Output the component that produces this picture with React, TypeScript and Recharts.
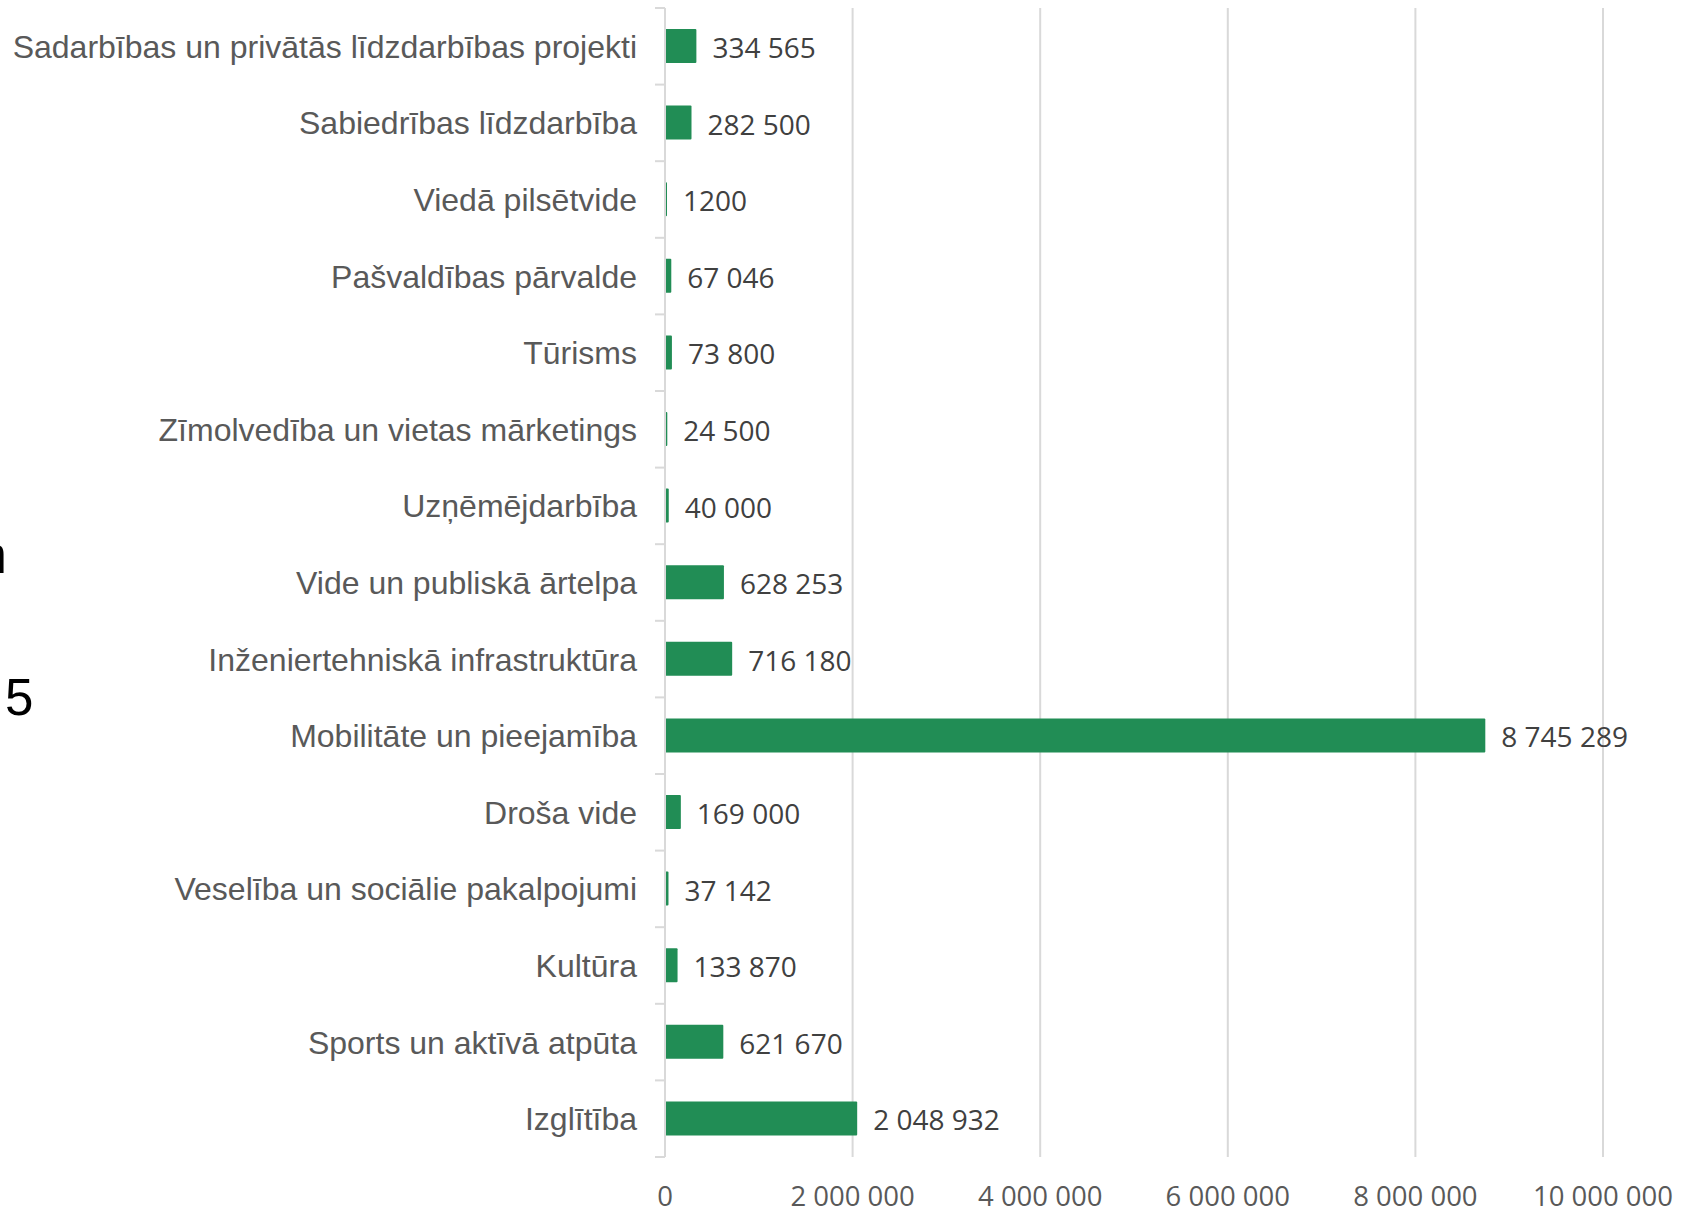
import { BarChart, Bar, XAxis, YAxis, CartesianGrid, LabelList } from 'recharts';

const categories = [
    'Sadarbības un privātās līdzdarbības projekti',
    'Sabiedrības līdzdarbība',
    'Viedā pilsētvide',
    'Pašvaldības pārvalde',
    'Tūrisms',
    'Zīmolvedība un vietas mārketings',
    'Uzņēmējdarbība',
    'Vide un publiskā ārtelpa',
    'Inženiertehniskā infrastruktūra',
    'Mobilitāte un pieejamība',
    'Droša vide',
    'Veselība un sociālie pakalpojumi',
    'Kultūra',
    'Sports un aktīvā atpūta',
    'Izglītība',
];

const amounts = [334565, 282500, 1200, 67046, 73800, 24500, 40000, 628253, 716180, 8745289, 169000, 37142, 133870, 621670, 2048932];

const xTicks = [0, 2000000, 4000000, 6000000, 8000000, 10000000];

const data = categories.map((name, i) => ({ name, amount: amounts[i] }));

const W = 1701;
const H = 1213;
const TOP = 8;
const X_AXIS_H = 56;
const Y_AXIS_W = 665;
const BAND = (H - TOP - X_AXIS_H) / categories.length;

const GREEN = '#218d55';
const GRID = '#d9d9d9';
const LABEL_FONT = "'Liberation Sans', Arial, sans-serif";
const NUM_FONT = "'Open Sans', sans-serif";

// spaces as thousand separators, 4-digit numbers stay ungrouped
const fmt = (v: number) => (v < 10000 ? String(v) : String(v).replace(/\B(?=(\d{3})+(?!\d))/g, ' '));

const CategoryTick = ({ x, y, payload, index }: any) => (
    <g>
        <text x={x} y={y} dy="0.36em" textAnchor="end" fill="#595959" fontSize={32} fontFamily={LABEL_FONT}>
            {payload.value}
        </text>
        <line x1={Y_AXIS_W - 10} x2={Y_AXIS_W} y1={y - BAND / 2} y2={y - BAND / 2} stroke={GRID} strokeWidth={2} />
        {index === categories.length - 1 && (
            <line x1={Y_AXIS_W - 10} x2={Y_AXIS_W} y1={y + BAND / 2} y2={y + BAND / 2} stroke={GRID} strokeWidth={2} />
        )}
    </g>
);

export default function App() {
    return (
        <div style={{ position: 'absolute', left: 0, top: 0, width: W, height: H, background: '#fff', overflow: 'hidden' }}>
            <BarChart
                width={W}
                height={H}
                data={data}
                layout="vertical"
                margin={{ top: TOP, right: 98, bottom: 0, left: 0 }}
            >
                <CartesianGrid horizontal={false} stroke={GRID} strokeWidth={2} />
                <XAxis
                    type="number"
                    domain={[0, 10000000]}
                    ticks={xTicks}
                    tickFormatter={fmt}
                    axisLine={false}
                    tickLine={false}
                    tickSize={0}
                    tickMargin={29}
                    height={X_AXIS_H}
                    interval={0}
                    tick={{ fontSize: 27.5, fill: '#595959', fontFamily: NUM_FONT }}
                />
                <YAxis
                    type="category"
                    dataKey="name"
                    width={Y_AXIS_W}
                    axisLine={{ stroke: GRID, strokeWidth: 2 }}
                    tickLine={false}
                    tickSize={10}
                    tickMargin={18}
                    interval={0}
                    tick={<CategoryTick />}
                />
                <Bar dataKey="amount" fill={GREEN} barSize={34} minPointSize={2} radius={1} isAnimationActive={false}>
                    <LabelList
                        dataKey="amount"
                        position="right"
                        offset={16}
                        dy={2}
                        formatter={(v: any) => fmt(Number(v))}
                        fill="#404040"
                        fontSize={28}
                        fontFamily={NUM_FONT}
                    />
                </Bar>
            </BarChart>
            <svg width={60} height={H} style={{ position: 'absolute', left: 0, top: 0 }}>
                <text x={-21.5} y={573} fontSize={51} fontFamily={LABEL_FONT} fill="#000">n</text>
                <text x={5} y={715} fontSize={51} fontFamily={LABEL_FONT} fill="#000">5</text>
            </svg>
        </div>
    );
}
